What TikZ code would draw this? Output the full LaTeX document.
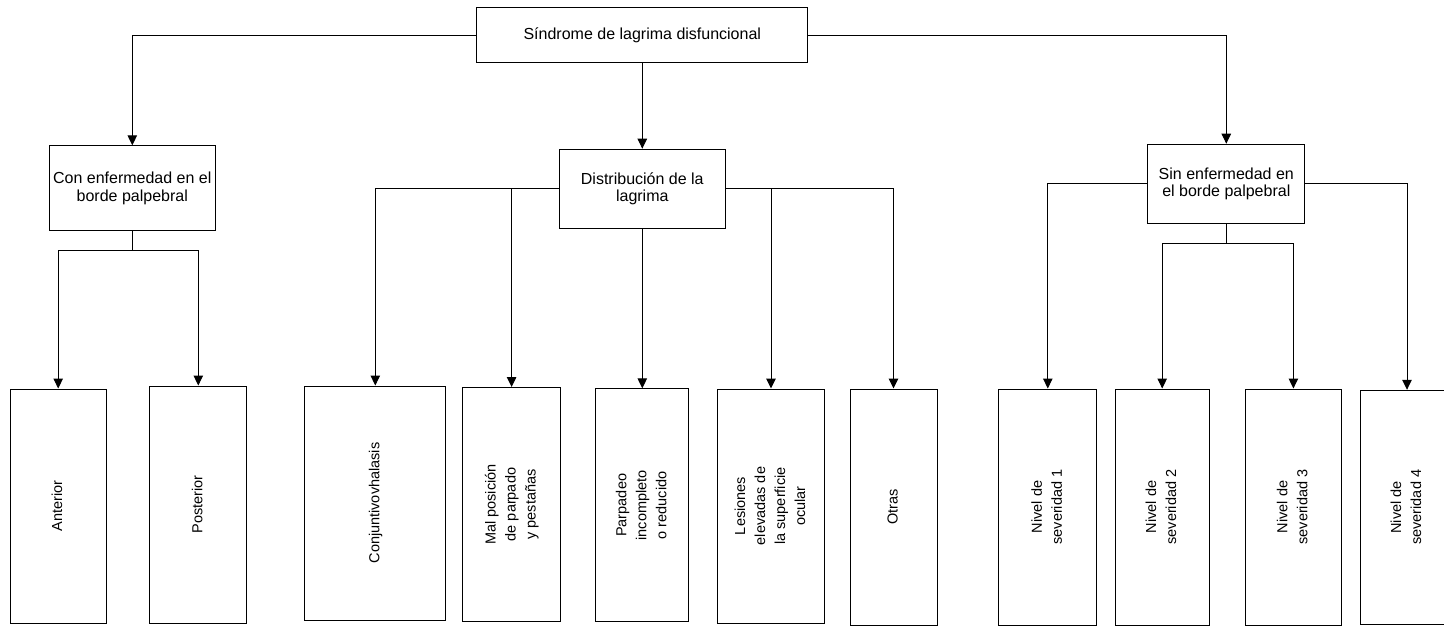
\documentclass[tikz,border=0pt]{standalone}
\usepackage{fontspec}
\setmainfont{Liberation Sans}
\usepackage{graphicx}
\usetikzlibrary{positioning,arrows.meta}
\newcommand{\vtext}[1]{\rotatebox{90}{\fontsize{14.5}{20}\selectfont\begin{tabular}{@{}c@{}}#1\end{tabular}}}
\tikzset{%
  box/.style={draw,line width=1pt,align=center,inner sep=2pt,font=\fontsize{16}{17.5}\selectfont},
  leaf/.style={draw,line width=1pt,inner sep=0pt},
  arr/.style={line width=1pt,-{Triangle[length=10pt,width=9.5pt]}}
}

\begin{document}
\begin{tikzpicture}[x=1pt,y=-1pt]
  \useasboundingbox (0,0) rectangle (1444,626);

  \node[box,minimum width=331pt,minimum height=55pt] (sind) at (642.3,35.5) {Síndrome de lagrima disfuncional};

  \node[box,minimum width=166pt,minimum height=85pt] (con) at (132.3,188.3) {Con enfermedad en el\\borde palpebral};
  \node[box,minimum width=166pt,minimum height=79pt] (dist) at (642.3,188.7) {Distribución de la\\lagrima};
  \node[box,minimum width=157pt,minimum height=79pt] (sin) at (1226.3,183.7) {Sin enfermedad en\\el borde palpebral};

  \node[leaf,minimum width=96pt,minimum height=234pt] (ant) at (58.2,506) {\vtext{Anterior}};
  \node[leaf,minimum width=97pt,minimum height=237pt] (post) at (198.3,504.5) {\vtext{Posterior}};

  \node[leaf,minimum width=141pt,minimum height=234pt] (conj) at (375.3,503) {\vtext{Conjuntivovhalasis}};
  \node[leaf,minimum width=98pt,minimum height=234pt] (mal) at (511.6,504.5) {\vtext{Mal posición\\de parpado\\y pestañas}};
  \node[leaf,minimum width=93pt,minimum height=233pt] (par) at (642.3,505.3) {\vtext{Parpadeo\\incompleto\\o reducido}};
  \node[leaf,minimum width=107pt,minimum height=234pt] (les) at (771,506) {\vtext{Lesiones\\elevadas de\\la superficie\\ocular}};
  \node[leaf,minimum width=87pt,minimum height=236pt] (otr) at (893.5,507) {\vtext{Otras}};

  \node[leaf,minimum width=98pt,minimum height=236pt] (n1) at (1047.8,507) {\vtext{Nivel de\\severidad 1}};
  \node[leaf,minimum width=94pt,minimum height=236pt] (n2) at (1162.2,507) {\vtext{Nivel de\\severidad 2}};
  \node[leaf,minimum width=96pt,minimum height=236pt] (n3) at (1293.4,507) {\vtext{Nivel de\\severidad 3}};
  \node[leaf,minimum width=93pt,minimum height=234pt] (n4) at (1407,507.3) {\vtext{Nivel de\\severidad 4}};

  \draw[arr] (sind.west) -| (con.north);
  \draw[arr] (sind.south) -- (dist.north);
  \draw[arr] (sind.east) -| (sin.north);

  \draw[arr] (con.south) -- ++(0,19.5) -| (ant.north);
  \draw[arr] (con.south) -- ++(0,19.5) -| (post.north);

  \draw[arr] (dist.west) -| (conj.north);
  \draw[arr] (dist.west) -| (mal.north);
  \draw[arr] (dist.south) -- (par.north);
  \draw[arr] (dist.east) -| (les.north);
  \draw[arr] (dist.east) -| (otr.north);

  \draw[arr] (sin.west) -| (n1.north);
  \draw[arr] (sin.south) -- ++(0,19.4) -| (n2.north);
  \draw[arr] (sin.south) -- ++(0,19.4) -| (n3.north);
  \draw[arr] (sin.east) -| (n4.north);
\end{tikzpicture}
\end{document}
